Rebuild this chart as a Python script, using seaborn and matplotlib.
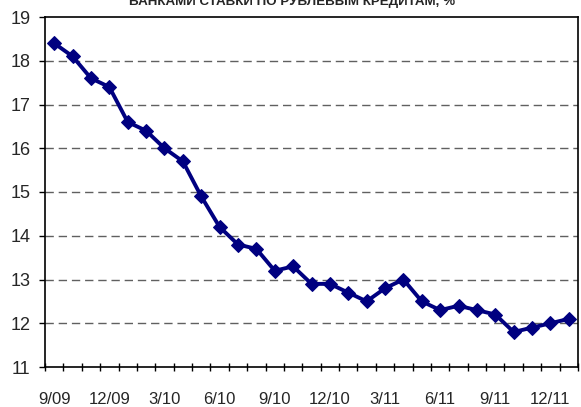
import numpy as np
import pandas as pd
import matplotlib
matplotlib.use("Agg")
import matplotlib.pyplot as plt
import seaborn as sns

# Data
values = [18.4, 18.1, 17.6, 17.4, 16.6, 16.4, 16.0, 15.7, 14.9, 14.2, 13.8, 13.7,
          13.2, 13.3, 12.9, 12.9, 12.7, 12.5, 12.8, 13.0, 12.5, 12.3, 12.4, 12.3,
          12.2, 11.8, 11.9, 12.0, 12.1]
tick_labels = ["9/09", "12/09", "3/10", "6/10", "9/10", "12/10", "3/11", "6/11", "9/11", "12/11"]
title = "БАНКАМИ СТАВКИ ПО РУБЛЕВЫМ КРЕДИТАМ, %"

df = pd.DataFrame({"idx": np.arange(len(values)), "value": values})

sns.set_style("white")
plt.rcParams['font.family'] = ['Liberation Sans', 'DejaVu Sans']

fig = plt.figure(figsize=(5.81, 4.07), dpi=100)
ax = fig.add_axes([45/581, 1 - 367/407, (578 - 45)/581, (367 - 17)/407])

for yv in range(12, 19):
    ax.axhline(yv, color="#606060", lw=1.0, dashes=(6, 3.5), zorder=1)

sns.lineplot(data=df, x="idx", y="value", ax=ax, color="#000080", lw=2.8,
             marker="D", markersize=7.5, markeredgecolor="#000080", zorder=3)

ax.set_xlim(-0.5, len(values) - 0.5)
ax.set_ylim(11, 19)
ax.set_yticks(range(11, 20))
ax.set_xticks(np.arange(0, len(values), 3)[:len(tick_labels)])
ax.set_xticklabels(tick_labels, fontsize=12)
ax.set_xticks(np.arange(len(values) + 1) - 0.5, minor=True)
ax.tick_params(axis="x", which="major", bottom=True, length=0, pad=18)
ax.tick_params(axis="x", which="minor", bottom=True, direction="inout", length=6, width=1, color="black")
ax.tick_params(axis="y", which="major", left=True, direction="out", length=4.5, width=1, color="black",
               labelsize=13, pad=6)
ax.set_xlabel("")
ax.set_ylabel("")
for s in ax.spines.values():
    s.set_color("black")
    s.set_linewidth(1.2)
    s.set_visible(True)

fig.text(292/581, 1 - 5/407, title, ha="center", va="baseline", fontsize=9.6, fontweight="bold")

fig.savefig("out.png", dpi=100)
